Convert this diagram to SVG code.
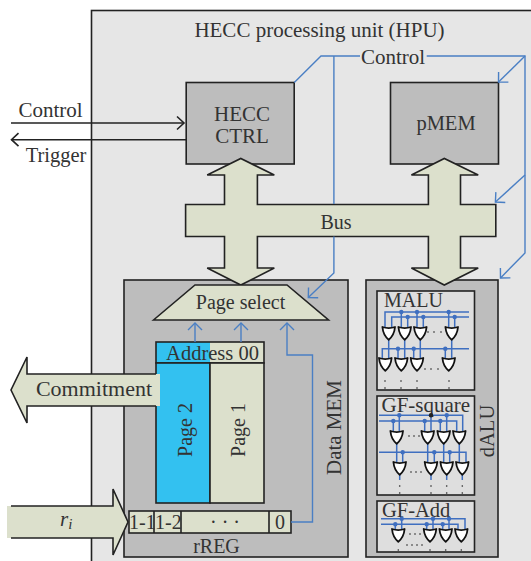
<svg xmlns="http://www.w3.org/2000/svg" width="531" height="561" viewBox="0 0 531 561">
<style>
text{font-family:"Liberation Serif",serif;fill:#333;font-size:21px}
.m{text-anchor:middle}
.k{stroke:#222;stroke-width:1.6}
.b{fill:none;stroke:#4a7fc4;stroke-width:1.4}
.w{fill:none;stroke:#3f6fc0;stroke-width:1.5}
.bd{fill:#3f6fc0}
.pale{fill:#dce0cc;stroke:#222;stroke-width:1.6}
.gate{fill:#fff;stroke:#111;stroke-width:1.8;stroke-linejoin:round}
.dot{fill:#222}
.inner{fill:#dedede;stroke:#222;stroke-width:1.6}
.grey{fill:#bdbdbd;stroke:#222;stroke-width:1.6}
</style>
<defs>
<path id="gate" class="gate" d="M-6.300 0Q0 2.200 6.300 0Q5.600 8 0 12.800Q-5.600 8 -6.300 0Z"/>
<marker id="ab" markerWidth="12" markerHeight="16" refX="10.500" refY="8" orient="auto" markerUnits="userSpaceOnUse"><path d="M3.500 1L10.500 8L3.500 15" fill="none" stroke="#4a7fc4" stroke-width="1.4"/></marker>
<marker id="ak" markerWidth="12" markerHeight="16" refX="10.500" refY="8" orient="auto" markerUnits="userSpaceOnUse"><path d="M3.500 1.500L10.500 8L3.500 14.500" fill="none" stroke="#222" stroke-width="1.600"/></marker>
</defs>

<g id="hpu">
<rect x="91.500" y="10.500" width="445" height="555" fill="#e6e6e6" stroke="#222" stroke-width="1.600"/>
<text class="m" x="319.500" y="37">HECC processing unit (HPU)</text>
</g>
<g id="data-mem">
<rect class="grey" x="124" y="280" width="224" height="277"/>
<text class="m" transform="translate(340.500 427.500) rotate(-90)">Data MEM</text>
<text class="m" x="216.500" y="553" style="font-size:20px">rREG</text>
</g>
<g id="dalu-box">
<rect class="grey" x="366" y="280" width="132" height="277"/>
<text class="m" transform="translate(493.500 431) rotate(-90)" style="font-size:20.500px">dALU</text>
</g>
<g id="hecc-ctrl">
<rect class="grey" x="186.200" y="82.500" width="108" height="81.500"/>
<text class="m" x="242" y="121">HECC</text><text class="m" x="242" y="143">CTRL</text>
</g>
<g id="pmem">
<rect class="grey" x="390.500" y="82.500" width="108" height="81.500"/>
<text class="m" x="446" y="130" style="font-size:20.500px">pMEM</text>
</g>
<g id="bus">
<path class="pale" d="M185.600 204.500H224.500V175H207.200L240.800 158.500L274.300 175H257.400V204.500H428.400V175H411.400L444.300 158.500L478.200 175H460.500V204.500H495.800V236.500H460.500V268H478.200L444.300 285L411.400 268H428.400V236.500H257.400V268H274.300L240.800 285L207.200 268H224.500V236.500H185.600Z"/>
<text class="m" x="336" y="229" style="font-size:20px">Bus</text>
</g>
<g id="page-select">
<path class="pale" d="M153.500 320L195 285H287L328.500 320Z"/>
<text class="m" x="240.500" y="309" style="font-size:20px">Page select</text>
</g>
<g id="pages">
<rect x="156" y="342" width="54" height="21" fill="#33c1f0"/>
<rect x="210" y="342" width="54" height="21" fill="#dce0cc"/>
<rect x="156" y="342" width="108" height="21" fill="none" class="k"/>
<rect x="156" y="363" width="54" height="140" fill="#33c1f0" class="k"/>
<rect x="210" y="363" width="54" height="140" fill="#dce0cc" class="k"/>
<text class="m" x="212.500" y="360" style="font-size:20.500px">Address 00</text>
<text class="m" transform="translate(191.500 430) rotate(-90)" style="font-size:20px">Page 2</text>
<text class="m" transform="translate(245 430) rotate(-90)" style="font-size:20px">Page 1</text>
</g>
<g id="commitment">
<path d="M160 374H27V357L11 390L27 423V406H160Z" fill="#dce0cc"/>
<path d="M156 374H27V357L11 390L27 423V406H156" fill="none" class="k"/>
<text class="m" x="94" y="396" style="font-size:22px">Commitment</text>
</g>
<g id="ri">
<path d="M7 506H113V489L128 522L113 555V538H7Z" fill="#dce0cc"/>
<path d="M11 506H113V489L128 522L113 555V538H11" fill="none" class="k"/>
<text x="60" y="526" style="font-style:italic">r<tspan dy="3" style="font-size:15px">i</tspan></text>
</g>
<g id="rreg">
<rect class="pale" x="129" y="511" width="162" height="22"/>
<path class="k" d="M154 511V533M181 511V533M269 511V533"/>
<text x="129" y="529" style="font-size:20px">1-1</text><text x="155" y="529" style="font-size:20px">1-2</text>
<text class="m" x="225" y="529" style="font-size:20px">· · ·</text><text class="m" x="280" y="529" style="font-size:20px">0</text>
</g>
<g id="connectors">
<path class="b" d="M294.300 82.500L321 56H360"/>
<path class="b" d="M333.900 56V204M333.900 236.500V273L308.300 297.500" marker-end="url(#ab)"/>
<path class="b" d="M426.700 56H525V253L500.500 278" marker-end="url(#ab)"/>
<path class="b" d="M525 56L498.500 82" marker-end="url(#ab)"/>
<path class="b" d="M525 175L495.400 202" marker-end="url(#ab)"/>
<path class="b" d="M195 342V323" marker-end="url(#ab)"/>
<path class="b" d="M241 342V323" marker-end="url(#ab)"/>
<path class="b" d="M291 522H312.500V355H287V323" marker-end="url(#ab)"/>
<path class="k" fill="none" d="M11 123H184" marker-end="url(#ak)"/>
<path class="k" fill="none" d="M186 139.700H11.500" marker-end="url(#ak)"/>
<text class="m" x="393" y="64">Control</text>
<text class="m" x="50.500" y="117">Control</text>
<text class="m" x="56" y="162" style="font-size:20.500px">Trigger</text>
</g>
<g id="malu">
<rect class="inner" x="377" y="291" width="97.500" height="99"/>
<text x="384" y="307" style="font-size:20px">MALU</text>
<path class="w" d="M385 327V312H469M391.700 327V317H469M382.300 358V348.700H469M401.300 312V327M417 312V327M448.700 312V327M407.700 317V327M423.300 317V327M454.700 317V327M388.700 340V358M404.700 340V358M420.300 340V358M451.700 340V358M398 348.700V358M413.700 348.700V358M445.300 348.700V358"/>
<g class="bd"><circle cx="401.300" cy="312" r="2.200"/><circle cx="417" cy="312" r="2.200"/><circle cx="448.700" cy="312" r="2.200"/><circle cx="407.700" cy="317" r="2.200"/><circle cx="423.300" cy="317" r="2.200"/><circle cx="454.700" cy="317" r="2.200"/><circle cx="398" cy="348.700" r="2.200"/><circle cx="413.700" cy="348.700" r="2.200"/><circle cx="445.300" cy="348.700" r="2.200"/></g>
<use href="#gate" x="388.700" y="327"/><use href="#gate" x="404.700" y="327"/><use href="#gate" x="420.300" y="327"/><use href="#gate" x="451.700" y="327"/>
<use href="#gate" x="385.300" y="358"/><use href="#gate" x="401.300" y="358"/><use href="#gate" x="417" y="358"/><use href="#gate" x="448.700" y="358"/>
<g class="dot"><circle cx="428" cy="332" r=".8"/><circle cx="434" cy="332" r=".8"/><circle cx="441" cy="332" r=".8"/><circle cx="425" cy="369" r=".8"/><circle cx="431" cy="369" r=".8"/><circle cx="438" cy="369" r=".8"/><circle cx="385" cy="381" r=".8"/><circle cx="401" cy="381" r=".8"/><circle cx="417" cy="381" r=".8"/><circle cx="449" cy="381" r=".8"/><circle cx="385" cy="388" r=".8"/><circle cx="401" cy="388" r=".8"/><circle cx="417" cy="388" r=".8"/><circle cx="449" cy="388" r=".8"/></g>
</g>
<g id="gf-square">
<rect class="inner" x="377" y="396" width="97.500" height="99"/>
<path class="w" d="M379 415.300H462.700V431M379 421H456.700V431M399.300 415.300V431M431 415.300V431M446.700 415.300V431M393.300 421V431M424.700 421V431M440.300 421V431M396.700 443V462M427.700 443V462M443.700 443V462M459.300 443V462M379 452.300H466V462M402.700 452.300V462M434.300 452.300V462M449.700 452.300V462M399.700 474V480M431 474V480M446.700 474V480M462.300 474V480"/>
<text x="381.500" y="411.700">GF-square</text>
<g class="bd"><circle cx="399.300" cy="415.300" r="2.200"/><circle cx="446.700" cy="415.300" r="2.200"/><circle cx="393.300" cy="421" r="2.200"/><circle cx="424.700" cy="421" r="2.200"/><circle cx="440.300" cy="421" r="2.200"/><circle cx="402.700" cy="452.300" r="2.200"/><circle cx="434.300" cy="452.300" r="2.200"/><circle cx="449.700" cy="452.300" r="2.200"/></g>
<circle cx="431" cy="415.300" r="2.200" fill="#222"/>
<use href="#gate" x="396.700" y="431"/><use href="#gate" x="427.700" y="431"/><use href="#gate" x="443.700" y="431"/><use href="#gate" x="459.300" y="431"/>
<use href="#gate" x="399.700" y="462"/><use href="#gate" x="431" y="462"/><use href="#gate" x="446.700" y="462"/><use href="#gate" x="462.300" y="462"/>
<g class="dot"><circle cx="409" cy="436" r=".8"/><circle cx="414" cy="436" r=".8"/><circle cx="419" cy="436" r=".8"/><circle cx="411" cy="472" r=".8"/><circle cx="416" cy="472" r=".8"/><circle cx="421" cy="472" r=".8"/><circle cx="399.700" cy="486" r=".8"/><circle cx="431" cy="486" r=".8"/><circle cx="446.700" cy="486" r=".8"/><circle cx="462.300" cy="486" r=".8"/><circle cx="399.700" cy="493" r=".8"/><circle cx="431" cy="493" r=".8"/><circle cx="446.700" cy="493" r=".8"/><circle cx="462.300" cy="493" r=".8"/></g>
</g>
<g id="gf-add">
<rect class="inner" x="377" y="501" width="97.500" height="51"/>
<path class="w" d="M381 518.700H465V529M381 524.300H458V529M401.700 518.700V529M433 518.700V529M449 518.700V529M395.300 524.300V529M426.700 524.300V529M442.700 524.300V529"/>
<text x="382" y="516.700" style="font-size:20.500px">GF-Add</text>
<g class="bd"><circle cx="401.700" cy="518.700" r="2.200"/><circle cx="433" cy="518.700" r="2.200"/><circle cx="449" cy="518.700" r="2.200"/><circle cx="395.300" cy="524.300" r="2.200"/><circle cx="426.700" cy="524.300" r="2.200"/><circle cx="442.700" cy="524.300" r="2.200"/></g>
<use href="#gate" x="398.300" y="529"/><use href="#gate" x="430" y="529"/><use href="#gate" x="445.700" y="529"/><use href="#gate" x="461.300" y="529"/>
<g class="dot"><circle cx="410" cy="534" r=".8"/><circle cx="415" cy="534" r=".8"/><circle cx="420" cy="534" r=".8"/><circle cx="407" cy="545" r=".8"/><circle cx="412" cy="545" r=".8"/><circle cx="417" cy="545" r=".8"/><circle cx="422" cy="545" r=".8"/><circle cx="398.300" cy="550" r=".8"/><circle cx="430" cy="550" r=".8"/><circle cx="445.700" cy="550" r=".8"/><circle cx="461.300" cy="550" r=".8"/></g>
</g>
</svg>
